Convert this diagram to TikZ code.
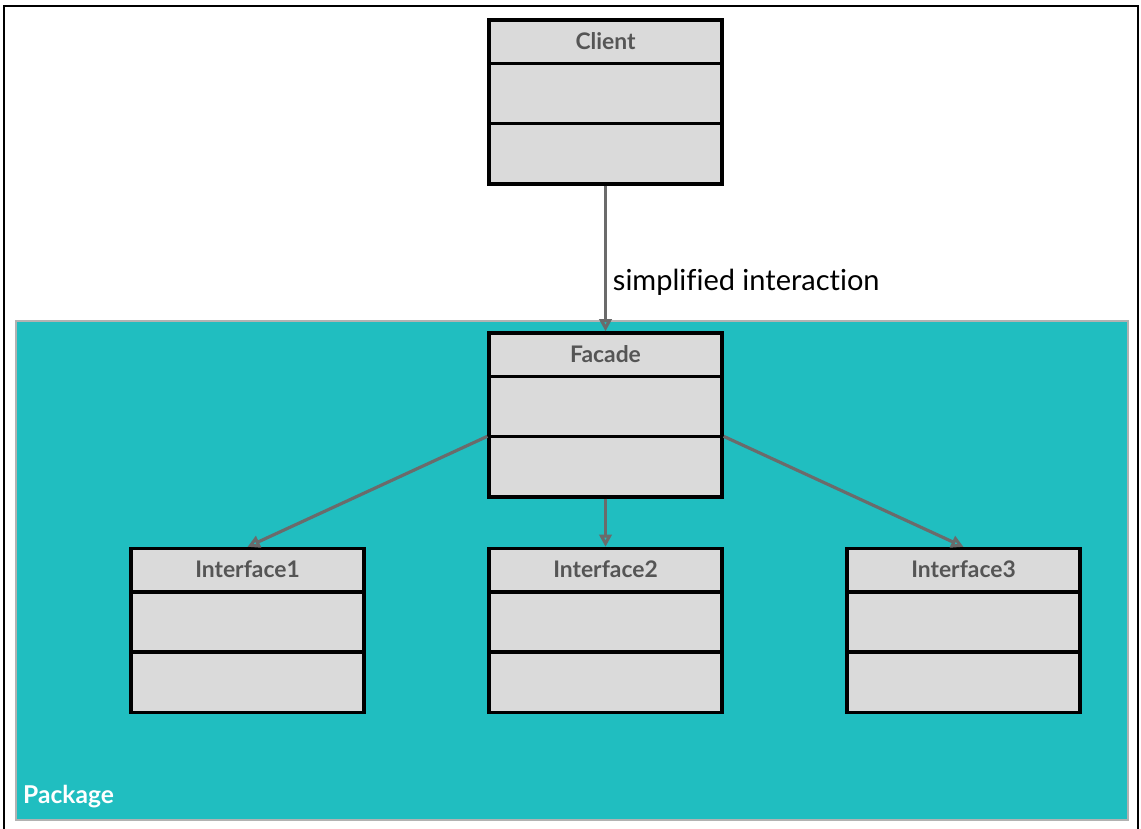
\documentclass[tikz,border=0pt]{standalone}
\usepackage{fontspec}
\setmainfont{Lato}[Ligatures={NoCommon}]
\usetikzlibrary{arrows.meta}

\definecolor{pkgteal}{HTML}{20BEC0}
\definecolor{boxgray}{HTML}{DADADA}
\definecolor{titlegray}{HTML}{555555}
\definecolor{linkgray}{HTML}{6B6B6B}

\tikzset{
  classbox/.style={draw=black, fill=boxgray, line width=1.9pt,
    minimum width=4.66cm, minimum height=3.28cm, inner sep=0pt},
  classtitle/.style={text=titlegray, font=\fontsize{13}{15}\selectfont\bfseries},
  divider/.style={draw=black, line width=1.9pt},
  link/.style={draw=linkgray, line width=1.8pt,
    -{Triangle[open,length=7pt,width=7pt]}},
  package/.style={draw=black!30, fill=pkgteal, line width=0.8pt,
    minimum width=22.24cm, minimum height=9.98cm},
}

\begin{document}
\begin{tikzpicture}[x=0.02cm, y=-0.02cm]
  \useasboundingbox (0,0) rectangle (1141,828);
  % outer frame
  \draw[line width=1.3pt] (4,860) -- (4,6) -- (1138,6) -- (1138,860);

  \node[package] (pkg) at (572,570.5) {};
  \node[anchor=base west, text=white, font=\fontsize{14}{16}\selectfont\bfseries]
    (pkg-label) at (17,803) {Package};

  % classes
  \foreach \name/\title/\x/\y in {client/Client/605.5/102, facade/Facade/605.5/415,
      ifa/Interface1/247.5/630.5, ifb/Interface2/605.5/630.5, ifc/Interface3/963.5/630.5}{
    \node[classbox] (\name) at (\x,\y) {};
    \node[classtitle] (\name-title) at ([yshift=-0.45cm]\name.north) {\title};
    \draw[divider] ([yshift=-0.9cm]\name.north west) -- ([yshift=-0.9cm]\name.north east);
    \draw[divider] ([yshift=-2.1cm]\name.north west) -- ([yshift=-2.1cm]\name.north east);
  }

  % links
  \draw[link] (client) -- (facade)
    node[pos=0.66, right, font=\fontsize{16.5}{19}\selectfont] (note) {simplified interaction};
  \draw[link] ([yshift=-2.1cm]facade.north west) -- (ifa.north);
  \draw[link] (facade) -- (ifb);
  \draw[link] ([yshift=-2.1cm]facade.north east) -- (ifc.north);
\end{tikzpicture}
\end{document}
